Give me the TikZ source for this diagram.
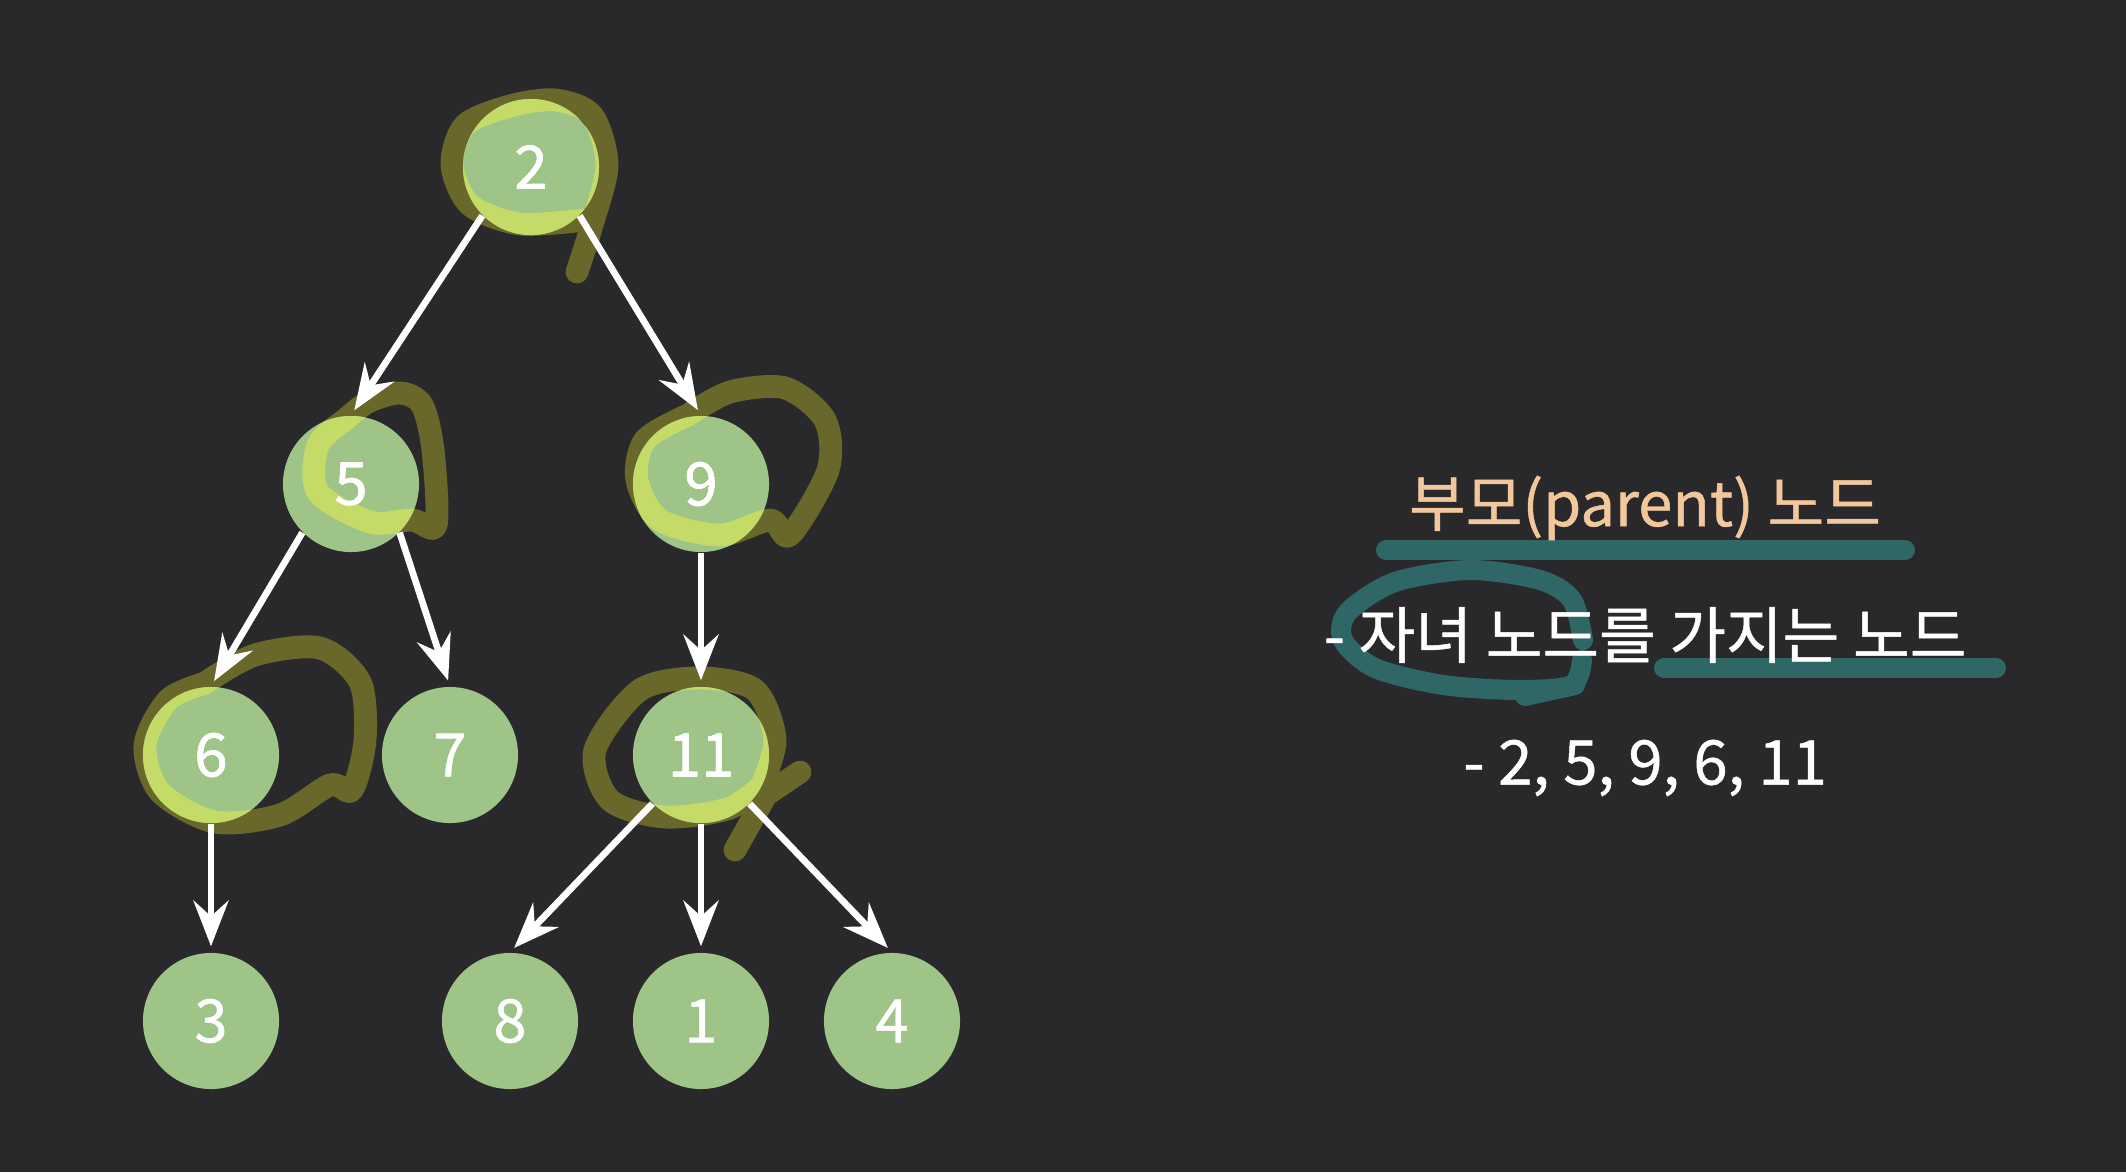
\documentclass[tikz,border=0pt]{standalone}
\usepackage{fontspec}
\setmainfont{Noto Sans CJK KR}
\newfontfamily\medfont{Noto Sans CJK KR}[FakeBold=0.8]
\usetikzlibrary{arrows.meta}
\definecolor{bgdark}{HTML}{29282B}
\definecolor{nodegreen}{HTML}{9EC488}
\definecolor{hlgreen}{HTML}{C4DB67}
\definecolor{olive}{HTML}{69682A}
\definecolor{tealpen}{HTML}{2E6765}
\definecolor{peach}{HTML}{F3C79C}
\tikzset{
    tnode/.style={circle, fill=nodegreen, minimum size=1.36cm, inner sep=0pt, text=white, font=\medfont\fontsize{17}{20}\selectfont},
    arr/.style={-{Stealth[length=13pt,width=10pt,inset=4.5pt]}, draw=white, line width=1.9pt, shorten >=0.06cm},
    scrib/.style={draw=olive, line width=6.5pt, line cap=round, line join=round},
    hl/.style={draw=hlgreen, line width=6.5pt, line cap=round, line join=round},
    tealmark/.style={draw=tealpen, line width=5.7pt, line cap=round, line join=round},
    txt/.style={font=\medfont\fontsize{17.5}{21}\selectfont, text=white}
}
\begin{document}
\begin{tikzpicture}[x=0.01cm, y=-0.01cm]
    % background
    \fill[bgdark] (0,0) rectangle (2126,1172);
    \useasboundingbox (0,0) rectangle (2126,1172);

    % scribbles around the parent nodes (pen strokes)
    \path[save path=\scribtwo] plot[smooth] coordinates {(577,272) (592,225) (607,165) (592,115) (555,100) (510,106) (465,125) (452,165) (470,205) (520,224) (585,220)};
    \path[save path=\scribfive] plot[smooth] coordinates {(345,420) (368,402) (400,393) (422,405) (433,450) (436,525) (412,520) (370,522) (318,492) (318,445) (345,420)};
    \path[save path=\scribnine] plot[smooth] coordinates {(688,415) (730,392) (785,388) (825,420) (828,470) (790,535) (770,520) (720,535) (660,520) (637,480) (645,440) (688,415)};
    \path[save path=\scribsix] plot[smooth] coordinates {(205,683) (255,655) (320,648) (360,682) (365,740) (352,790) (330,785) (280,815) (215,822) (160,792) (145,745) (168,700) (205,683)};
    \path[save path=\scribeleven] plot[smooth] coordinates {(760,790) (775,740) (755,690) (700,678) (640,690) (595,750) (610,800) (665,817) (730,808) (768,780)};

    \draw[scrib, use path=\scribtwo];
    \draw[scrib, use path=\scribfive];
    \draw[scrib, use path=\scribnine];
    \draw[scrib, use path=\scribsix];
    \draw[scrib, use path=\scribeleven];
    \draw[scrib] (800,772) -- (766,795) -- (735,850);

    % tree
    \node[tnode] (n2) at (531,167) {2};
    \node[tnode] (n5) at (351,484) {5};
    \node[tnode] (n9) at (701,484) {9};
    \node[tnode] (n6) at (211,755) {6};
    \node[tnode] (n7) at (450,755) {7};
    \node[tnode] (n11) at (701,755) {11};
    \node[tnode] (n3) at (211,1021) {3};
    \node[tnode] (n8) at (510,1021) {8};
    \node[tnode] (n1) at (701,1021) {1};
    \node[tnode] (n4) at (892,1021) {4};

    % highlight where the strokes cross the nodes
    \begin{scope}
        \clip (n2.center) circle (68);
        \draw[hl, use path=\scribtwo];
    \end{scope}
    \begin{scope}
        \clip (n5.center) circle (68);
        \draw[hl, use path=\scribfive];
    \end{scope}
    \begin{scope}
        \clip (n9.center) circle (68);
        \draw[hl, use path=\scribnine];
    \end{scope}
    \begin{scope}
        \clip (n6.center) circle (68);
        \draw[hl, use path=\scribsix];
    \end{scope}
    \begin{scope}
        \clip (n11.center) circle (68);
        \draw[hl, use path=\scribeleven];
    \end{scope}
    \node[tnode, fill=none] at (n2) {2};
    \node[tnode, fill=none] at (n5) {5};
    \node[tnode, fill=none] at (n9) {9};
    \node[tnode, fill=none] at (n6) {6};
    \node[tnode, fill=none] at (n11) {11};

    \draw[arr] (n2.south west) -- (n5.north);
    \draw[arr] (n2.south east) -- (n9.north);
    \draw[arr] (n5.south west) -- (n6.north);
    \draw[arr] (n5.south east) -- (n7.north);
    \draw[arr] (n9) -- (n11);
    \draw[arr] (n6) -- (n3);
    \draw[arr] (n11.south west) -- (n8.north);
    \draw[arr] (n11) -- (n1);
    \draw[arr] (n11.south east) -- (n4.north);

    % teal marks
    \draw[tealmark] (1386,550) -- (1905,550);
    \draw[tealmark] (1664,668) -- (1996,668);
    \draw[tealmark] plot[smooth] coordinates {(1583,640) (1572,600) (1540,580) (1470,570) (1395,582) (1348,612) (1343,640) (1375,668) (1443,685) (1520,690) (1572,685) (1582,660)};
    \draw[tealmark] (1575,685) -- (1525,696);

    % text
    \node[txt, text=peach] (title) at (1645,508) {부모(parent) 노드};
    \node[txt] (desc) at (1645,635) {- 자녀 노드를 가지는 노드};
    \node[txt] (list) at (1645,768) {- 2, 5, 9, 6, 11};
\end{tikzpicture}
\end{document}
